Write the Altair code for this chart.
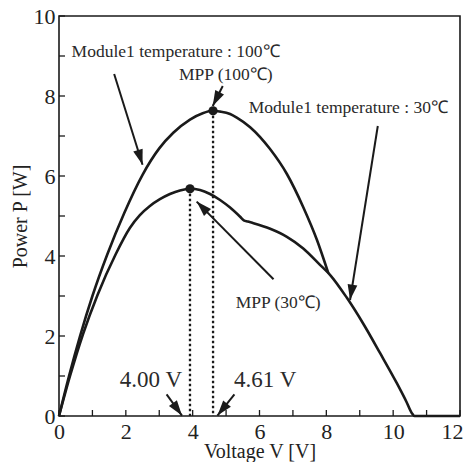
import math
import altair as alt
import pandas as pd

# ---- data ----
# Module1 temperature 100 C curve (upper)
v_100 = [0, 0.30, 0.63, 1.00, 1.45, 1.95, 2.50, 3.00, 3.42, 3.92, 4.30, 4.61, 4.82, 5.12, 5.32,
         5.72, 6.31, 6.82, 7.31, 7.72, 8.06]
p_100 = [0, 1.00, 2.00, 3.00, 4.05, 5.07, 6.03, 6.69, 7.08, 7.41, 7.57, 7.63, 7.61, 7.55, 7.46,
         7.22, 6.68, 6.05, 5.22, 4.40, 3.57]

# Module1 temperature 30 C curve (lower)
v_30 = [0, 0.33, 0.72, 1.15, 1.70, 2.12, 2.42, 2.72, 3.02, 3.32, 3.62, 3.92, 4.22, 4.52, 4.82, 5.12,
        5.42, 5.53, 5.65, 5.82, 6.32, 6.82, 7.31, 7.81, 8.11, 8.61, 9.11, 9.61, 10.11, 10.40,
        10.56, 10.64, 12.0]
p_30 = [0, 1.00, 2.05, 3.02, 4.05, 4.70, 5.02, 5.25, 5.42, 5.55, 5.64, 5.68, 5.65, 5.55, 5.40, 5.21,
        4.98, 4.89, 4.86, 4.82, 4.68, 4.48, 4.19, 3.78, 3.53, 2.96, 2.30, 1.57, 0.82, 0.35,
        0.07, 0, 0]

# maximum power points
mpp_v = [4.61, 3.92]
mpp_p = [7.63, 5.68]

# annotation arrows (tail -> tip)
arr_v0 = [1.65, 4.90, 9.54, 6.42, 3.22, 5.25]
arr_p0 = [8.55, 8.25, 7.25, 3.42, 0.54, 0.54]
arr_v1 = [2.50, 4.60, 8.71, 4.12, 3.68, 4.74]
arr_p1 = [6.28, 7.75, 2.90, 5.36, 0.01, 0.01]

# annotation texts
small_text = ["Module1 temperature : 100℃", "MPP (100℃)", "Module1 temperature : 30℃", "MPP (30℃)"]
small_v = [3.49, 4.99, 8.66, 6.56]
small_p = [8.97, 8.40, 7.57, 2.69]
big_text = ["4.00 V", "4.61 V"]
big_v = [2.75, 6.17]
big_p = [0.72, 0.72]

x_ticks = list(range(0, 13))
y_ticks = list(range(0, 11))
x_labels = [0, 2, 4, 6, 8, 10, 12]
y_labels = [0, 2, 4, 6, 8, 10]

# ---- layout ----
W, H = 401, 400
FONT = "Liberation Serif"
INK = "#1a1a1a"

curves = pd.concat([
    pd.DataFrame({"V": v_100, "P": p_100, "s": "100"}),
    pd.DataFrame({"V": v_30, "P": p_30, "s": "30"}),
])
mpp = pd.DataFrame({"V": mpp_v, "P": mpp_p, "z": [0, 0]})

sx, sy = W / 12.0, H / 10.0
angles = []
for a, b, c, d in zip(arr_v0, arr_p0, arr_v1, arr_p1):
    dx = (c - a) * sx
    dy = -(d - b) * sy
    angles.append(math.degrees(math.atan2(dx, -dy)) % 360)
arrows = pd.DataFrame({"V0": arr_v0, "P0": arr_p0, "V1": arr_v1, "P1": arr_p1, "ang": angles})
small = pd.DataFrame({"t": small_text, "V": small_v, "P": small_p})
big = pd.DataFrame({"t": big_text, "V": big_v, "P": big_p})

xs = alt.Scale(domain=[0, 12], nice=False, zero=False)
ys = alt.Scale(domain=[0, 10], nice=False, zero=False)

X = lambda f: alt.X(f, type="quantitative", scale=xs,
                    axis=alt.Axis(values=x_labels, title="Voltage V [V]", ticks=False, domain=False,
                                  grid=False, labelFlush=False, labelPadding=5,
                                  labelOffset=alt.condition("datum.value == 12", alt.value(-8), alt.value(0)),
                                  titleY=41, titleBaseline="alphabetic", format="d"))
Y = lambda f: alt.Y(f, type="quantitative", scale=ys,
                    axis=alt.Axis(values=y_labels, title="Power P [W]", ticks=False, domain=False,
                                  grid=False, labelFlush=False, labelPadding=4,
                                  titleX=-33, titleBaseline="alphabetic", format="d"))

lines = alt.Chart(curves).mark_line(color=INK, strokeWidth=2.6, interpolate="monotone").encode(
    x=X("V"), y=Y("P"), detail="s:N")

drops = alt.Chart(mpp).mark_rule(color=INK, strokeWidth=2.3, strokeDash=[2.5, 2.5]).encode(
    x=X("V"), y=Y("P"), y2="z:Q")

dots = alt.Chart(mpp).mark_point(shape="circle", filled=True, color=INK, size=85, opacity=1).encode(
    x=X("V"), y=Y("P"))

shafts = alt.Chart(arrows).mark_rule(color=INK, strokeWidth=2).encode(
    x=X("V0"), y=Y("P0"), x2="V1:Q", y2="P1:Q")

heads = alt.Chart(arrows).mark_point(
    shape="M0,0L-0.7,2.2L0.7,2.2Z", filled=True, color=INK, size=196, opacity=1).encode(
    x=X("V1"), y=Y("P1"), angle=alt.Angle("ang:Q", scale=None))

small_txt = alt.Chart(small).mark_text(font=FONT, fontSize=17.5, color="#2a2a2a", align="center",
                                       baseline="alphabetic").encode(x=X("V"), y=Y("P"), text="t:N")
big_txt = alt.Chart(big).mark_text(font=FONT, fontSize=23, color="#2a2a2a", align="center",
                                   baseline="alphabetic").encode(x=X("V"), y=Y("P"), text="t:N")

xt = alt.Chart(pd.DataFrame({"V": x_ticks})).mark_rule(color=INK, strokeWidth=1.3).encode(
    x=X("V"), y=alt.value(H), y2=alt.value(H - 6))
yt = alt.Chart(pd.DataFrame({"P": y_ticks})).mark_rule(color=INK, strokeWidth=1.3).encode(
    y=Y("P"), x=alt.value(0), x2=alt.value(6))

chart = alt.layer(xt, yt, drops, lines, dots, shafts, heads, small_txt, big_txt).properties(
    width=W, height=H,
    autosize=alt.AutoSizeParams(type="none"),
    padding={"left": 51, "top": 8, "right": 4, "bottom": 46},
).configure_view(stroke=INK, strokeWidth=1.6).configure_axis(
    labelFont=FONT, labelFontSize=22, labelColor="#222", titleFont=FONT, titleFontSize=20,
    titleFontWeight="normal", titleColor="#222"
)

chart.save("out.html", embed_options={"renderer": "svg", "actions": False})
